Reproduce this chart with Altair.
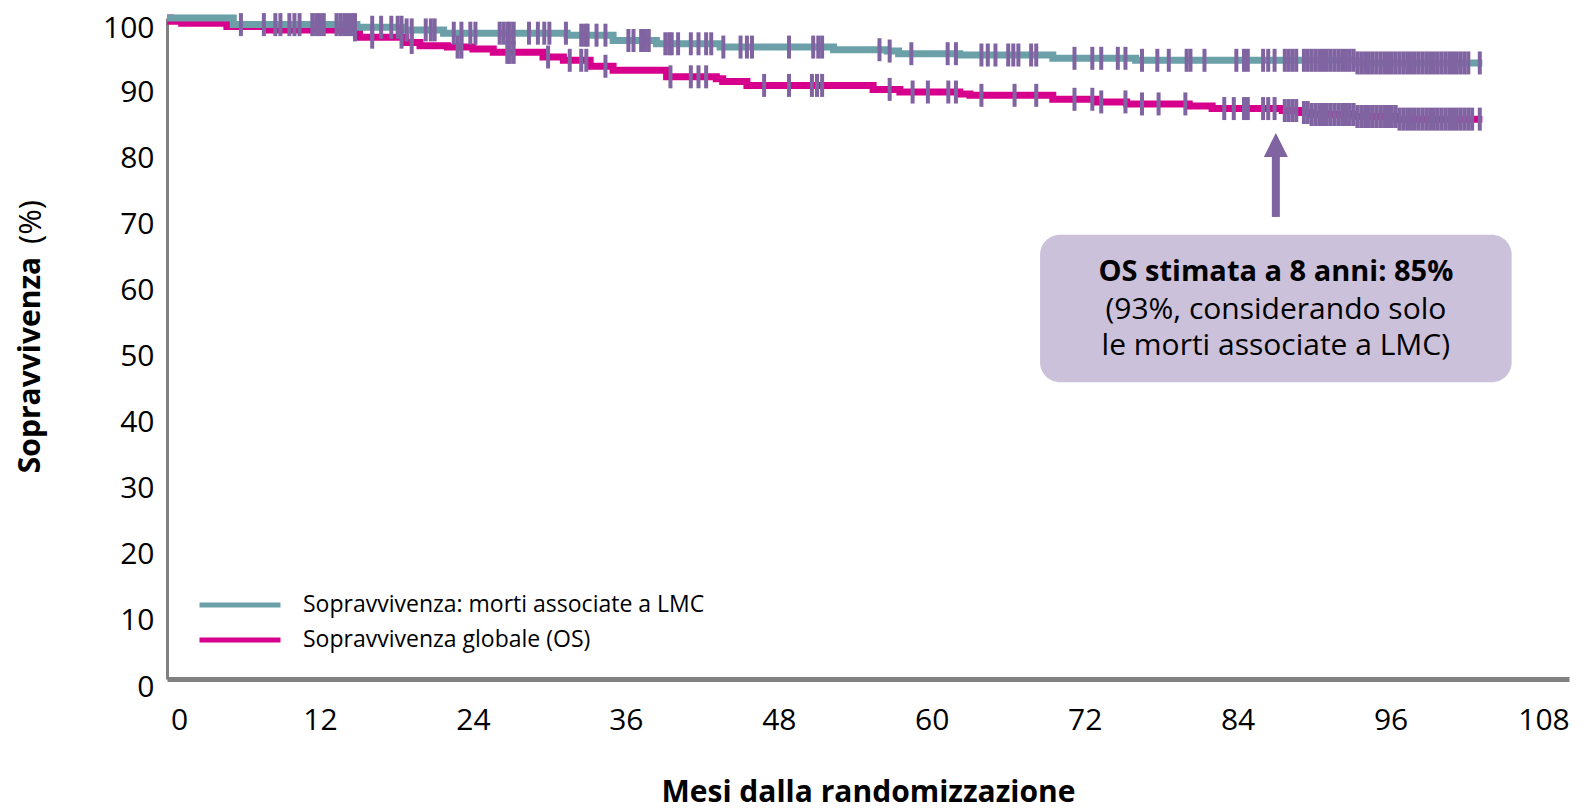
import bisect
import altair as alt
import pandas as pd

# ---------------- data ----------------
X_TICKS = [0, 12, 24, 36, 48, 60, 72, 84, 96, 108]
Y_TICKS = [0, 10, 20, 30, 40, 50, 60, 70, 80, 90, 100]

LMC_NAME = "Sopravvivenza: morti associate a LMC"
OS_NAME = "Sopravvivenza globale (OS)"

# Kaplan-Meier steps (months, survival %)
lmc_months = [0, 5.2, 14.9, 18.5, 21.7, 31.4, 35.0, 38.4, 43.4, 52.3, 56.5, 57.4,
              62.2, 69.5, 76.0, 93.4, 103.2]
lmc_surv = [100, 99.0, 98.6, 98.2, 97.7, 97.4, 96.6, 96.1, 95.6, 95.2, 95.0, 94.6,
            94.4, 93.9, 93.6, 93.2, 93.2]

os_months = [0, 0.3, 1.15, 4.7, 8.0, 15.1, 18.7, 19.85, 22.0, 24.0, 25.6, 29.5,
             31.1, 33.2, 35.0, 39.2, 43.1, 43.6, 45.5, 55.4, 57.5, 62.2, 63.0,
             69.5, 72.9, 75.3, 80.2, 82.0, 87.5, 88.9, 89.7, 93.2, 96.5, 103.2]
os_surv = [100, 99.5, 99.2, 98.7, 98.2, 97.1, 96.3, 95.8, 95.6, 95.3, 94.8, 94.1,
           93.6, 92.7, 92.1, 91.1, 90.8, 90.4, 89.8, 89.2, 88.8, 88.5, 88.3,
           87.7, 87.3, 87.0, 86.7, 86.3, 86.0, 85.7, 85.4, 85.1, 84.7, 84.7]

# censored observations (months)
lmc_censored = [5.8, 7.6, 8.5, 8.9, 9.6, 10.0, 10.4, 11.4, 11.7, 12.0, 12.3, 13.3,
                13.6, 13.9, 14.2, 14.5, 14.75, 16.1, 16.8, 17.6, 18.1, 18.4, 18.8,
                19.2, 20.3, 20.7, 21.0, 22.5, 23.1, 23.8, 24.2, 26.1, 26.4, 26.7,
                26.9, 27.2, 28.4, 29.1, 29.6, 30.0, 31.3, 32.5, 32.8, 33.0, 33.7,
                34.4, 36.2, 36.6, 37.2, 37.5, 37.8, 39.1, 39.4, 39.6, 40.1, 41.1,
                41.7, 42.3, 42.7, 43.65, 45.0, 45.5, 45.9, 48.8, 50.7, 51.1, 51.4,
                55.9, 56.7, 58.4, 61.25, 61.9, 63.9, 64.4, 65.0, 66.0, 66.4, 66.8,
                67.8, 68.2, 71.2, 72.6, 73.3, 74.6, 75.2, 76.5, 77.7, 78.6, 80.0,
                80.3, 81.4, 83.9, 84.5, 84.8, 86.0, 86.4, 86.9, 87.7, 88.0, 88.3,
                88.6, 89.2, 89.5, 89.8, 90.1, 90.4, 90.7, 91.0, 91.3, 91.6, 91.9,
                92.2, 92.5, 92.8, 93.1, 93.4, 93.7, 94.0, 94.3, 94.6, 94.9, 95.2,
                95.5, 95.8, 96.1, 96.4, 96.7, 97.0, 97.3, 97.6, 97.9, 98.2, 98.5,
                98.8, 99.1, 99.4, 99.7, 100.0, 100.3, 100.6, 100.9, 101.2, 101.5,
                101.8, 102.1, 103.0]
os_censored = [14.75, 16.1, 18.4, 19.2, 22.8, 23.1, 26.7, 26.9, 27.2, 29.9, 31.6,
               32.5, 32.9, 34.4, 39.5, 41.1, 41.7, 42.3, 46.85, 48.8, 50.6, 51.0,
               51.4, 56.7, 58.5, 59.7, 61.3, 61.9, 63.9, 66.5, 68.2, 71.2, 72.6,
               73.3, 75.2, 76.5, 77.8, 79.9, 82.95, 83.7, 84.5, 84.8, 86.0, 86.4,
               86.9, 87.7, 88.0, 88.3, 88.6, 89.2, 89.5, 89.8, 90.1, 90.4, 90.7,
               91.0, 91.3, 91.6, 91.9, 92.2, 92.5, 92.8, 93.1, 93.4, 93.7, 94.0,
               94.3, 94.6, 94.9, 95.2, 95.5, 95.8, 96.1, 96.4, 96.7, 97.0, 97.3,
               97.6, 97.9, 98.2, 98.5, 98.8, 99.1, 99.4, 99.7, 100.0, 100.3, 100.6,
               100.9, 101.2, 101.5, 101.8, 102.1, 102.4, 103.0]

# annotation (data units)
ARROW_MONTH = 87
ARROW_FROM, ARROW_TO, ARROW_HEAD = 69.9, 79.5, 80.8
BOX = {"month": 68.5, "month2": 105.5, "surv": 44.9, "surv2": 67.2}
ANN_LINES = ["OS stimata a 8 anni: 85%", "(93%, considerando solo",
             "le morti associate a LMC)"]
ANN_Y = [61.6, 55.8, 50.4]
ANN_BOLD = [True, False, False]

# ---------------- styles ----------------
FONT = "Open Sans"
TEAL = "#6BA0A8"
MAGENTA = "#D6008C"
PURPLE = "#8064A2"
BOX_FILL = "#CCC1DA"
AXIS_GRAY = "#808080"


def level_at(months, surv, t):
    i = bisect.bisect_right(months, t) - 1
    return surv[max(i, 0)]


lmc_df = pd.DataFrame({"month": lmc_months, "surv": lmc_surv, "series": LMC_NAME})
os_df = pd.DataFrame({"month": os_months, "surv": os_surv, "series": OS_NAME})
cens_df = pd.DataFrame(
    {"month": lmc_censored + os_censored,
     "surv": [level_at(lmc_months, lmc_surv, t) for t in lmc_censored]
     + [level_at(os_months, os_surv, t) for t in os_censored]})

X_ENC = alt.X(
    "month:Q",
    scale=alt.Scale(domain=[0, 110], nice=False, zero=False),
    axis=alt.Axis(
        values=X_TICKS, title="Mesi dalla randomizzazione", grid=False, ticks=False,
        domainColor=AXIS_GRAY, domainWidth=5, labelFontSize=30, labelColor="black",
        labelPadding=41, labelBaseline="middle", labelFlush=False, labelOverlap=False,
        labelOffset={"condition": {"test": "datum.value === 0", "value": 12}, "value": 0},
        titleFontSize=30, titleFontWeight="bold", titleColor="black",
        titleX=701, titleY=122, titleBaseline="alphabetic", titleAlign="center",
        titleAnchor="middle"),
)
Y_ENC = alt.Y(
    "surv:Q",
    scale=alt.Scale(domain=[0, 100], nice=False, zero=False),
    axis=alt.Axis(
        values=Y_TICKS, title=None, grid=False, ticks=False, domainColor=AXIS_GRAY,
        domainWidth=3, labelFontSize=30, labelColor="black", labelPadding=13,
        labelBaseline="middle", labelFlush=False, labelOverlap=False,
        labelOffset={"condition": {"test": "datum.value === 100", "value": 10},
                     "value": 8}),
)
COLOR_ENC = alt.Color(
    "series:N",
    scale=alt.Scale(domain=[LMC_NAME, OS_NAME], range=[TEAL, MAGENTA]),
    legend=alt.Legend(
        orient="none", legendX=30, legendY=576, title=None, symbolType="stroke",
        symbolStrokeWidth=5, symbolSize=6561, labelFontSize=23, labelOffset=20,
        labelColor="black", labelFont=FONT, rowPadding=12, padding=0,
        clipHeight=22, symbolOffset=0, labelLimit=0),
)

os_line = alt.Chart(os_df).mark_line(interpolate="step-after", strokeWidth=7).encode(
    x=X_ENC, y=Y_ENC, color=COLOR_ENC)
lmc_line = alt.Chart(lmc_df).mark_line(interpolate="step-after", strokeWidth=7).encode(
    x=X_ENC, y=Y_ENC, color=COLOR_ENC)
ticks = alt.Chart(cens_df).mark_tick(
    orient="vertical", color=PURPLE, thickness=4, size=23, opacity=1).encode(
    x=X_ENC, y=Y_ENC)

box = alt.Chart(pd.DataFrame([BOX])).mark_rect(
    fill=BOX_FILL, cornerRadius=20).encode(x=X_ENC, x2="month2:Q", y=Y_ENC, y2="surv2:Q")

shaft = alt.Chart(pd.DataFrame(
    {"month": [ARROW_MONTH], "surv": [ARROW_FROM], "surv2": [ARROW_TO]})).mark_rule(
    color=PURPLE, strokeWidth=8).encode(x=X_ENC, y=Y_ENC, y2="surv2:Q")
head = alt.Chart(pd.DataFrame({"month": [ARROW_MONTH], "surv": [ARROW_HEAD]})).mark_point(
    shape="M0,-1L1,1L-1,1Z", filled=True, fill=PURPLE, color=PURPLE, opacity=1,
    size=576, strokeWidth=0).encode(x=X_ENC, y=Y_ENC)

ann_df = pd.DataFrame({"month": [ARROW_MONTH] * 3, "surv": ANN_Y, "label": ANN_LINES,
                       "bold": ANN_BOLD})
ann_bold = alt.Chart(ann_df[ann_df.bold]).mark_text(
    font=FONT, fontSize=29, fontWeight="bold", color="black", baseline="middle",
    align="center").encode(x=X_ENC, y=Y_ENC, text="label:N")
ann_reg = alt.Chart(ann_df[~ann_df.bold]).mark_text(
    font=FONT, fontSize=30, color="black", baseline="middle",
    align="center").encode(x=X_ENC, y=Y_ENC, text="label:N")

ytitle_bold = alt.Chart(pd.DataFrame({"t": ["Sopravvivenza"]})).mark_text(
    font=FONT, fontSize=30, fontWeight="bold", color="black", angle=270,
    baseline="middle", align="center").encode(
    x=alt.value(-136), y=alt.value(347), text="t:N")
ytitle_pct = alt.Chart(pd.DataFrame({"t": ["(%)"]})).mark_text(
    font=FONT, fontSize=31, color="black", angle=270, baseline="middle",
    align="center").encode(x=alt.value(-135), y=alt.value(204), text="t:N")

chart = alt.layer(
    os_line, lmc_line, ticks, box, shaft, head, ann_bold, ann_reg, ytitle_bold, ytitle_pct
).properties(
    width=1402, height=661,
    padding={"left": 159, "top": 10, "right": 4, "bottom": 131},
    autosize=alt.AutoSizeParams(type="none"),
).configure(font=FONT).configure_view(stroke=None)

chart.save("out.html", embed_options={"renderer": "svg", "actions": False})
